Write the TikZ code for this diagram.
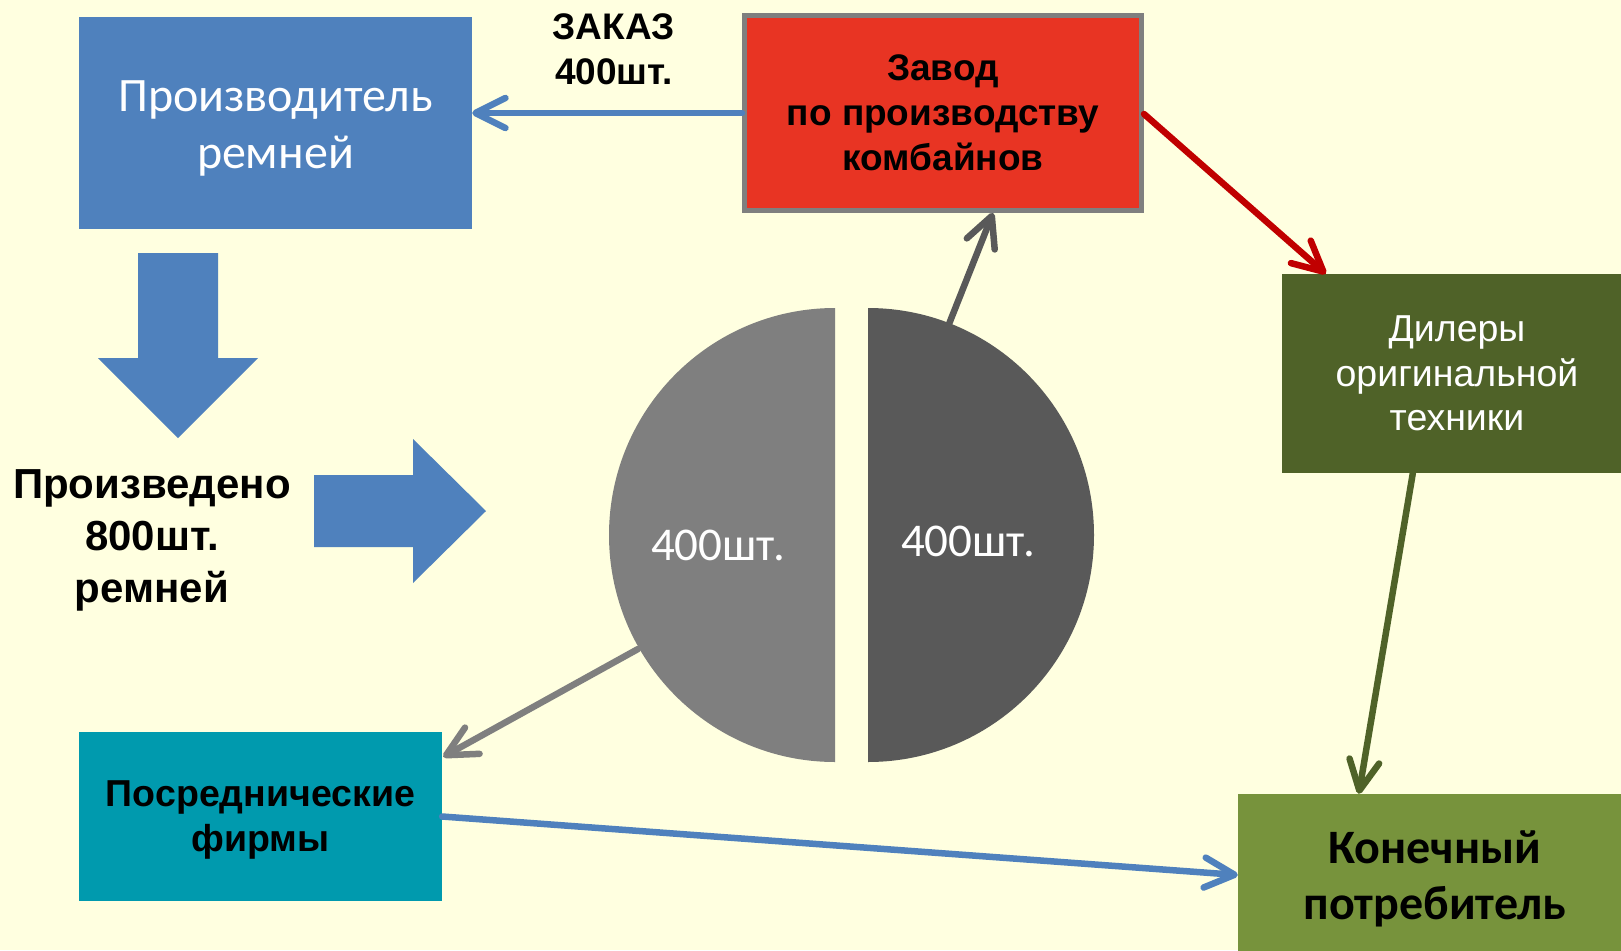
\documentclass[tikz,border=0pt]{standalone}
\usepackage{fontspec}
\setmainfont{Liberation Sans}
\newfontfamily\calfont{Carlito}
\usetikzlibrary{arrows.meta,calc}
\definecolor{bgc}{HTML}{FFFFE0}
\definecolor{blu}{HTML}{4F81BD}
\definecolor{redf}{HTML}{E83423}
\definecolor{grb}{HTML}{7F7F7F}
\definecolor{dgr}{HTML}{595959}
\definecolor{oliv}{HTML}{4F6228}
\definecolor{teal2}{HTML}{009AAE}
\definecolor{kgreen}{HTML}{77933C}
\definecolor{dred}{HTML}{C00000}
\tikzset{
  box/.style={rectangle, inner sep=0pt, align=center},
  conn/.style={line width=6.5pt, line cap=round, -{Straight Barb[length=30pt,width=30pt,line cap=round,line join=round]}},
  blockarrow/.style={fill=blu, draw=none},
}
\begin{document}
\begin{tikzpicture}[x=1pt,y=-1pt]
\useasboundingbox (0,0) rectangle (1621,950);
\clip (0,0) rectangle (1621,950);
\fill[bgc] (0,0) rectangle (1621,950);

% boxes
\node[box, fill=blu, minimum width=393pt, minimum height=212pt] (prod) at (275.5,123) {};
\node[text=white, align=center, inner sep=0pt,
      font=\calfont\fontsize{48}{57}\selectfont] (prodt) at (275.5,128) {Производитель\\ремней};
\node[box, fill=redf, draw=grb, line width=5pt, minimum width=397pt, minimum height=195pt,
      font=\bfseries\fontsize{37}{45}\selectfont] (zavod) at (943,113) {Завод\\по производству\\комбайнов};
\node[box, fill=oliv, minimum width=350pt, minimum height=199pt, text=white,
      font=\fontsize{37.5}{44.5}\selectfont] (dil) at (1457,373.5) {Дилеры\\оригинальной\\техники};
\node[box, fill=kgreen, minimum width=394pt, minimum height=160pt] (kon) at (1435,874) {};
\node[align=center, inner sep=0pt, font=\calfont\bfseries\fontsize{48}{56}\selectfont] (kont) at (1435,879) {Конечный\\потребитель};
\node[box, fill=teal2, minimum width=363pt, minimum height=169pt] (posr) at (260.5,816.5) {};
\node[align=center, inner sep=0pt, font=\bfseries\fontsize{37.5}{44.5}\selectfont] (posrt) at (260.5,820) {Посреднические\\фирмы};

% free texts
\node[box, font=\bfseries\fontsize{37}{45}\selectfont] (zakaz) at (614,49) {ЗАКАЗ\\400шт.};
\node[box, font=\bfseries\fontsize{42}{52}\selectfont] (proizv) at (152,540) {Произведено\\800шт.\\ремней};

% block arrows
\fill[blockarrow] (138,253) -- (218,253) -- (218,358) -- (258,358) -- (178,438) -- (98,358) -- (138,358) -- cycle;
\fill[blockarrow] (314,475) -- (413,475) -- (413,439) -- (486,511) -- (413,583) -- (413,547) -- (314,547) -- cycle;

% pie
\fill[grb] (835,308) arc[start angle=90, end angle=270, x radius=226pt, y radius=227pt] -- cycle;
\fill[dgr] (868,308) arc[start angle=90, end angle=-90, x radius=226pt, y radius=227pt] -- cycle;
\node[text=white, font=\calfont\fontsize{47}{50}\selectfont] (pieL) at (718,545) {400шт.};
\node[text=white, font=\calfont\fontsize{47}{50}\selectfont] (pieR) at (968,541) {400шт.};
\coordinate (pieRout) at (949,324);
\coordinate (pieLout) at (638,649);

% connectors
\draw[conn, blu] (zavod.west) -- (prod.east |- zavod.west);
\draw[conn, dred] ($(zavod.east)+(0,1)$) -- ($(dil.north west)+(44,0)$);
\draw[conn, oliv] ($(dil.south west)+(131,0)$) -- ($(kon.north west)+(121,0)$);
\draw[conn, blu] (posr.east) -- ($(kon.west)+(0,1)$);
\draw[conn, dgr] (pieRout) -- ($(zavod.south west)+(251,0)$);
\draw[conn, grb] (pieLout) -- ($(posr.north east)+(1,25)$);
\end{tikzpicture}
\end{document}
